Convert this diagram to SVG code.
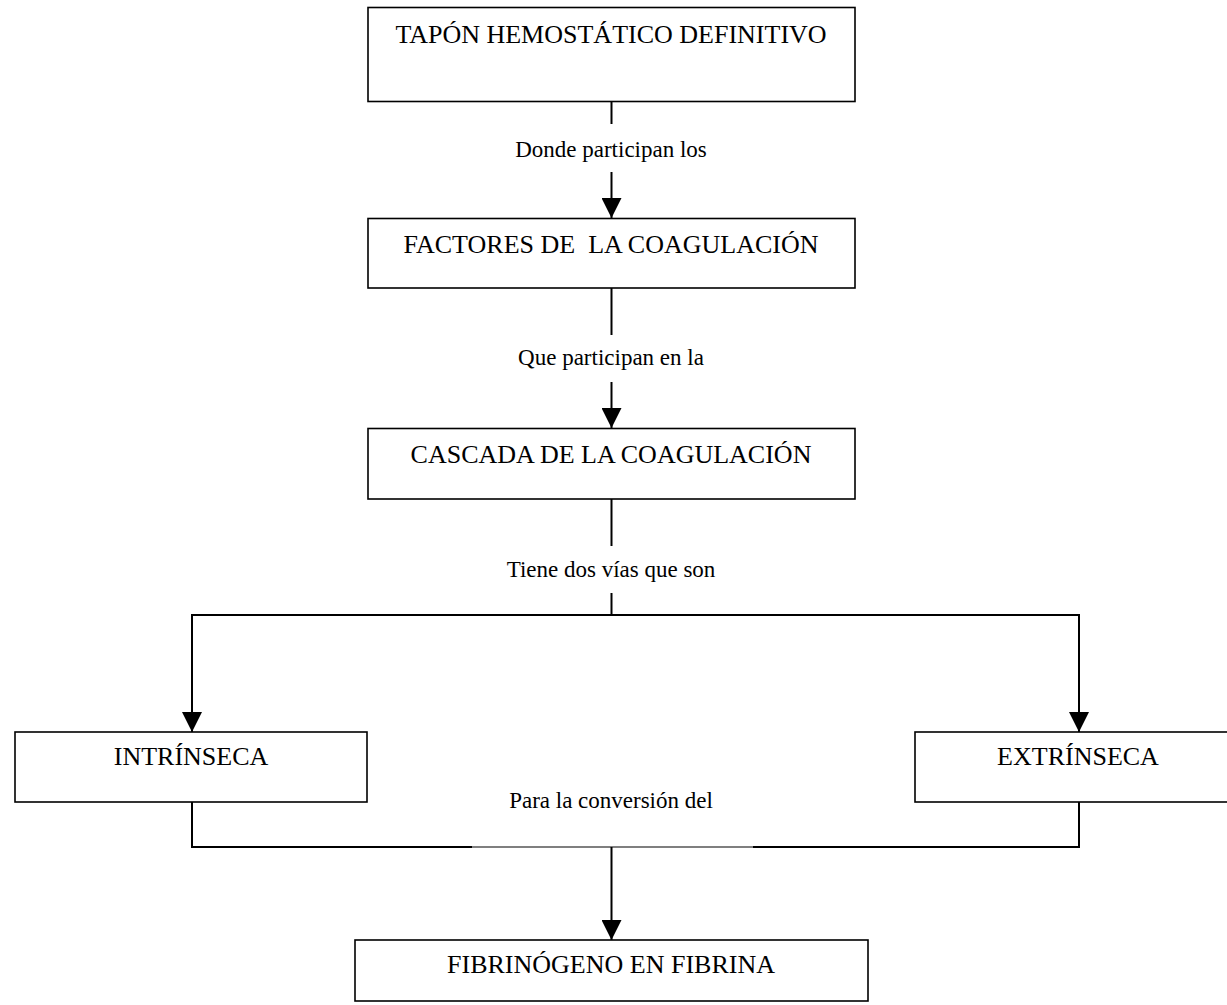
<svg xmlns="http://www.w3.org/2000/svg" width="1227" height="1005" viewBox="0 0 1227 1005">
  <style>
    .box { fill: #fff; stroke: #000; stroke-width: 1.6; }
    .title { font-family: "Liberation Serif", "Times New Roman", serif; font-size: 26px; fill: #000; text-anchor: middle; white-space: pre; }
    .label { font-family: "Liberation Serif", "Times New Roman", serif; font-size: 23px; fill: #000; text-anchor: middle; }
    .wire { fill: none; stroke: #000; stroke-width: 2; }
    .thin { fill: none; stroke: #000; stroke-width: 1.2; }
  </style>
  <defs>
    <marker id="arrow" markerWidth="20" markerHeight="20" refX="20" refY="10" orient="auto" markerUnits="userSpaceOnUse" viewBox="0 0 20 20">
      <path d="M0,0 L20,10 L0,20 Z" fill="#000"/>
    </marker>
  </defs>
  <rect width="1227" height="1005" fill="#fff"/>

  <!-- connectors -->
  <g id="connectors">
    <line class="wire" x1="611.5" y1="102" x2="611.5" y2="124"/>
    <line class="wire" x1="611.5" y1="172" x2="611.5" y2="218" marker-end="url(#arrow)"/>
    <line class="wire" x1="611.5" y1="288" x2="611.5" y2="335"/>
    <line class="wire" x1="611.5" y1="382" x2="611.5" y2="428" marker-end="url(#arrow)"/>
    <line class="wire" x1="611.5" y1="499" x2="611.5" y2="546"/>
    <line class="wire" x1="611.5" y1="593" x2="611.5" y2="615"/>
    <polyline class="wire" points="192,732 192,615 1079,615 1079,732" marker-end="url(#arrow)"/>
    <line class="wire" x1="192" y1="615" x2="192" y2="732" marker-end="url(#arrow)"/>
    <polyline class="wire" points="192,802 192,847 472,847"/>
    <polyline class="wire" points="1079,802 1079,847 753,847"/>
    <line class="thin" x1="472" y1="847" x2="753" y2="847"/>
    <line class="wire" x1="611.5" y1="847" x2="611.5" y2="940" marker-end="url(#arrow)"/>
    <text class="label" x="611" y="157">Donde participan los</text>
    <text class="label" x="611" y="365">Que participan en la</text>
    <text class="label" x="611" y="577">Tiene dos vías que son</text>
    <text class="label" x="611" y="808">Para la conversión del</text>
  </g>

  <g id="tapon">
    <rect class="box" x="368" y="7.5" width="487" height="94"/>
    <text class="title" x="611" y="43">TAPÓN HEMOSTÁTICO DEFINITIVO</text>
  </g>
  <g id="factores">
    <rect class="box" x="368" y="218.5" width="487" height="69.5"/>
    <text class="title" x="611" y="253">FACTORES DE  LA COAGULACIÓN</text>
  </g>
  <g id="cascada">
    <rect class="box" x="368" y="428.5" width="487" height="70.5"/>
    <text class="title" x="611" y="463">CASCADA DE LA COAGULACIÓN</text>
  </g>
  <g id="intrinseca">
    <rect class="box" x="15" y="732" width="352" height="70"/>
    <text class="title" x="191" y="765">INTRÍNSECA</text>
  </g>
  <g id="extrinseca">
    <rect class="box" x="915" y="732" width="330" height="70"/>
    <text class="title" x="1078" y="765">EXTRÍNSECA</text>
  </g>
  <g id="fibrinogeno">
    <rect class="box" x="355" y="940" width="513" height="61"/>
    <text class="title" x="611" y="973">FIBRINÓGENO EN FIBRINA</text>
  </g>
</svg>
